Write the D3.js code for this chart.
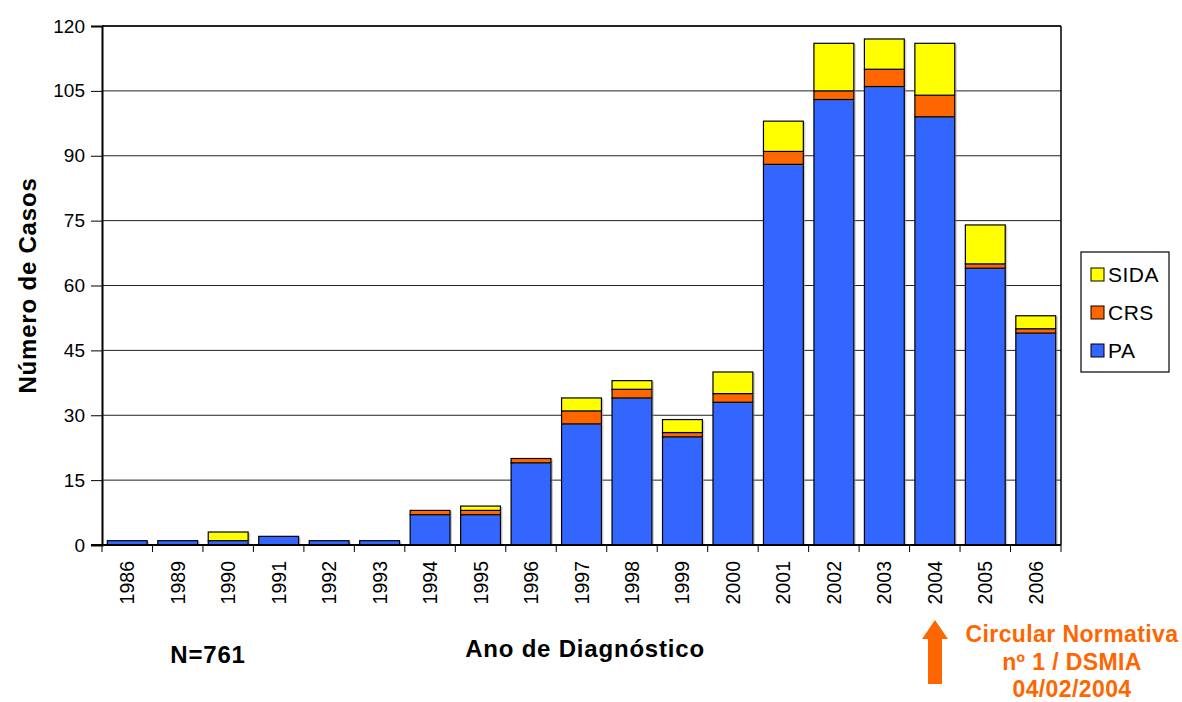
<!DOCTYPE html>
<html lang="pt">
<head>
<meta charset="utf-8">
<title>Número de Casos por Ano de Diagnóstico</title>
<script src="https://cdn.jsdelivr.net/npm/d3@7"></script>
<style>
  body { margin: 0; background: #fff; }
  svg text { font-family: "Liberation Sans", Arial, sans-serif; }
</style>
</head>
<body>
<div id="chart"></div>
<script>
// data
var years = ["1986","1989","1990","1991","1992","1993","1994","1995","1996","1997",
             "1998","1999","2000","2001","2002","2003","2004","2005","2006"];
var pa   = [1, 1, 1, 2, 1, 1, 7, 7, 19, 28, 34, 25, 33, 88, 103, 106, 99, 64, 49];
var crs  = [0, 0, 0, 0, 0, 0, 1, 1, 1, 3, 2, 1, 2, 3, 2, 4, 5, 1, 1];
var sida = [0, 0, 2, 0, 0, 0, 0, 1, 0, 3, 2, 3, 5, 7, 11, 7, 12, 9, 3];
var seriesNames = ["PA", "CRS", "SIDA"];
var yTicks = [0, 15, 30, 45, 60, 75, 90, 105, 120];

var W = 1182, H = 702;
var margin = {left: 102, right: 121, top: 26, bottom: 157};
var colors = {PA: "#3366FF", CRS: "#FF6600", SIDA: "#FFFF00"};

var rows = years.map(function(y, i) {
  return {year: y, PA: pa[i], CRS: crs[i], SIDA: sida[i]};
});

var svg = d3.select("#chart").append("svg")
  .attr("width", W).attr("height", H);

var x = d3.scaleBand()
  .domain(years)
  .range([margin.left, W - margin.right])
  .paddingInner(0.21)
  .paddingOuter(0.105);

var y = d3.scaleLinear()
  .domain([0, 120])
  .range([H - margin.bottom, margin.top]);

// gridlines
svg.append("g")
  .selectAll("line")
  .data(yTicks.filter(function(d) { return d > 0; }))
  .enter().append("line")
  .attr("x1", margin.left).attr("x2", W - margin.right)
  .attr("y1", function(d) { return y(d); })
  .attr("y2", function(d) { return y(d); })
  .attr("stroke", "#222").attr("stroke-width", 1);

// frame right side
svg.append("line")
  .attr("x1", W - margin.right).attr("x2", W - margin.right)
  .attr("y1", margin.top).attr("y2", H - margin.bottom)
  .attr("stroke", "#000").attr("stroke-width", 1.5);

var stack = d3.stack().keys(seriesNames);
var layers = stack(rows);

var groups = svg.append("g").selectAll("g")
  .data(layers)
  .enter().append("g")
  .attr("fill", function(d) { return colors[d.key]; });

// soft shadow
groups.selectAll("rect.shadow")
  .data(function(d) { return d.filter(function(p) { return p[1] > p[0]; }); })
  .enter().append("rect")
  .attr("class", "shadow")
  .attr("x", function(d) { return x(d.data.year) + 2; })
  .attr("y", function(d) { return y(d[1]) + 1; })
  .attr("width", x.bandwidth())
  .attr("height", function(d) { return y(d[0]) - y(d[1]); })
  .attr("fill", "#999").attr("opacity", 0.5);

groups.selectAll("rect.bar")
  .data(function(d) { return d.filter(function(p) { return p[1] > p[0]; }); })
  .enter().append("rect")
  .attr("class", "bar")
  .attr("x", function(d) { return x(d.data.year); })
  .attr("y", function(d) { return y(d[1]); })
  .attr("width", x.bandwidth())
  .attr("height", function(d) { return y(d[0]) - y(d[1]); })
  .attr("stroke", "#000").attr("stroke-width", 1.2);

// y axis
var yAxis = d3.axisLeft(y).tickValues(yTicks).tickSize(11).tickPadding(6);
var gy = svg.append("g")
  .attr("transform", "translate(" + margin.left + ",0)")
  .call(yAxis);
gy.select(".domain").attr("stroke", "#000").attr("stroke-width", 2);
gy.selectAll(".tick line").attr("stroke", "#000");
gy.selectAll("text").attr("font-size", 19).attr("fill", "#000")
  .style("font-family", "Liberation Sans, Arial, sans-serif");

// top frame line
svg.append("line")
  .attr("x1", margin.left).attr("x2", W - margin.right)
  .attr("y1", margin.top).attr("y2", margin.top)
  .attr("stroke", "#000").attr("stroke-width", 1.5);

// x axis with ticks at band edges
var xBase = H - margin.bottom;
svg.append("line")
  .attr("x1", margin.left - 11).attr("x2", W - margin.right)
  .attr("y1", xBase).attr("y2", xBase)
  .attr("stroke", "#000").attr("stroke-width", 2);

var step = x.step();
var edges = d3.range(years.length + 1).map(function(i) {
  return margin.left + i * step;
});
svg.append("g").selectAll("line")
  .data(edges)
  .enter().append("line")
  .attr("x1", function(d) { return d; }).attr("x2", function(d) { return d; })
  .attr("y1", xBase).attr("y2", xBase + 7)
  .attr("stroke", "#000");

svg.append("g").selectAll("text")
  .data(years)
  .enter().append("text")
  .attr("transform", function(d) {
    return "translate(" + (x(d) + x.bandwidth() / 2 + 7) + "," + (xBase + 16) + ") rotate(-90)";
  })
  .attr("text-anchor", "end")
  .attr("font-size", 19.5)
  .text(function(d) { return d; });

// axis titles
svg.append("text")
  .attr("transform", "translate(36," + ((margin.top + xBase) / 2) + ") rotate(-90)")
  .attr("text-anchor", "middle")
  .attr("font-size", 24).attr("font-weight", "bold")
  .attr("letter-spacing", 0.8)
  .text("Número de Casos");

svg.append("text")
  .attr("x", 585).attr("y", 657)
  .attr("text-anchor", "middle")
  .attr("font-size", 24).attr("font-weight", "bold")
  .attr("letter-spacing", 0.8)
  .text("Ano de Diagnóstico");

svg.append("text")
  .attr("x", 208).attr("y", 663)
  .attr("text-anchor", "middle")
  .attr("font-size", 24).attr("font-weight", "bold")
  .attr("letter-spacing", 0.8)
  .text("N=761");

// legend
var legend = svg.append("g").attr("transform", "translate(1081,252)");
legend.append("rect")
  .attr("width", 88).attr("height", 120)
  .attr("fill", "#fff").attr("stroke", "#000").attr("stroke-width", 1.2);
var legendItems = ["SIDA", "CRS", "PA"];
legend.selectAll("g.item")
  .data(legendItems)
  .enter().append("g")
  .attr("class", "item")
  .attr("transform", function(d, i) { return "translate(10," + (16 + i * 38) + ")"; })
  .each(function(d) {
    var g = d3.select(this);
    g.append("rect").attr("width", 13).attr("height", 13)
      .attr("fill", colors[d]).attr("stroke", "#000").attr("stroke-width", 1);
    g.append("text").attr("x", 17).attr("y", 14)
      .attr("font-size", 21).attr("letter-spacing", 0.5).text(d);
  });

// annotation
var orange = "#FF6600";
var arrowX = 935;
svg.append("line")
  .attr("x1", arrowX).attr("x2", arrowX)
  .attr("y1", 684).attr("y2", 636)
  .attr("stroke", orange).attr("stroke-width", 14);
svg.append("path")
  .attr("d", "M" + (arrowX - 13) + ",639 L" + arrowX + ",620 L" + (arrowX + 13) + ",639 Z")
  .attr("fill", orange);

var noteLines = ["Circular Normativa", "nº 1 / DSMIA", "04/02/2004"];
svg.append("g").selectAll("text")
  .data(noteLines)
  .enter().append("text")
  .attr("x", 1072)
  .attr("y", function(d, i) { return 642 + i * 27.5; })
  .attr("text-anchor", "middle")
  .attr("font-size", 23).attr("font-weight", "bold")
  .attr("letter-spacing", 0.4)
  .attr("fill", orange)
  .text(function(d) { return d; });
</script>
</body>
</html>
